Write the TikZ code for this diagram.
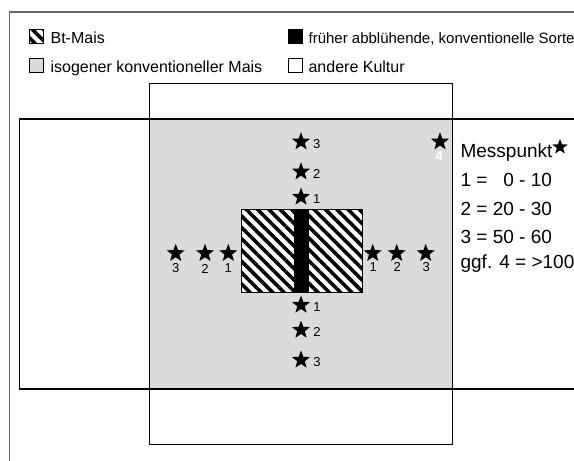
\documentclass[tikz,border=0pt]{standalone}
\usepackage{fontspec}
\setmainfont{Liberation Sans}
\usetikzlibrary{shapes.geometric,patterns.meta}

\definecolor{fieldgray}{gray}{0.86}
\definecolor{framegray}{gray}{0.4}

\begin{document}
\begin{tikzpicture}[x=1pt, y=-1pt, line width=1.2pt]
    \tikzset{starmark/.style={star, star points=5, star point ratio=2.4, fill=black, minimum size=19pt, inner sep=0pt},
      num/.style={inner sep=0pt, font=\fontsize{13}{13}\selectfont},
      legend/.style={inner sep=0pt, anchor=base west, font=\fontsize{16}{16}\selectfont},
      info/.style={inner sep=0pt, anchor=base west, font=\fontsize{19}{20}\selectfont},
      swatch/.style={draw=black, line width=0.8pt, minimum size=14pt, inner sep=0pt},
      btfill/.style={pattern={Lines[angle=-45, distance=8pt, line width=3.6pt]}}};

    \path[use as bounding box, fill=white] (0, 0) rectangle (574, 461);
    \clip (0, 0) rectangle (574, 461);

    % Rahmen
    \draw[framegray, line width=1.5pt] (9.3, 470) -- (9.3, 12) -- (590, 12);

    % Felder
    \fill[fieldgray] (149.3, 119) rectangle (452.3, 389);
    \draw (19.3, 119) rectangle (600, 389);
    \draw (149.3, 83.3) rectangle (452.3, 444.3);

    % Bt-Mais
    \fill[white] (241.7, 209.3) rectangle (362.7, 292.7);
    \fill[btfill] (241.7, 209.3) rectangle (362.7, 292.7);
    \fill[black] (294, 209.3) rectangle (309, 292.7);
    \draw[line width=0.8pt] (241.7, 209.3) rectangle (362.7, 292.7);

    % Messpunkte
    \foreach \n/\y in {1/197, 2/171.7, 3/141.7} {
      \node[starmark] (n\n) at (301, \y) {};
      \node[num] (nl\n) at (316.7, \y+2) {\n};
    }
    \foreach \n/\y in {1/305, 2/330, 3/360} {
      \node[starmark] (s\n) at (301, \y) {};
      \node[num] (sl\n) at (317, \y+2) {\n};
    }
    \foreach \n/\x in {1/228.3, 2/205, 3/175.7} {
      \node[starmark] (w\n) at (\x, 253.3) {};
      \node[num] (wl\n) at (\x, 268.5) {\n};
    }
    \foreach \n/\x in {1/372.7, 2/396.7, 3/425.7} {
      \node[starmark] (o\n) at (\x, 253.3) {};
      \node[num] (ol\n) at (\x+0.5, 267) {\n};
    }
    \node[starmark] (p4) at (440, 141.7) {};
    \node[num, text=white, font=\fontsize{13}{13}\selectfont\bfseries] (pl4) at (439.3, 156) {4};

    % Tiefen
    \node[info] (mp) at (460, 157.3) {Messpunkt};
    \node[starmark, minimum size=16pt] (mpstar) at (560, 147) {};
    \node[info] (m1) at (460, 186.7) {1 = \phantom{2}0 - 10};
    \node[info] (m2) at (460, 215) {2 = 20 - 30};
    \node[info] (m3) at (460, 243.3) {3 = 50 - 60};
    \node[info] (m4) at (460, 268.3) {ggf. 4 = >100};

    % Legende
    \node[swatch, preaction={fill=white}, btfill] (kbt) at (36, 36) {};
    \node[swatch, fill=black] (kfr) at (295.5, 36) {};
    \node[swatch, fill=fieldgray] (kiso) at (36, 65.5) {};
    \node[swatch, fill=white] (kand) at (295.5, 65.5) {};
    \node[legend] (tbt) at (50, 43.3) {Bt-Mais};
    \node[legend, font=\fontsize{15}{16}\selectfont] (tfr) at (308, 43.3) {früher abblühende, konventionelle Sorte};
    \node[legend] (tiso) at (50, 72.5) {isogener konventioneller Mais};
    \node[legend] (tand) at (308, 72.5) {andere Kultur};
  \end{tikzpicture}
\end{document}
